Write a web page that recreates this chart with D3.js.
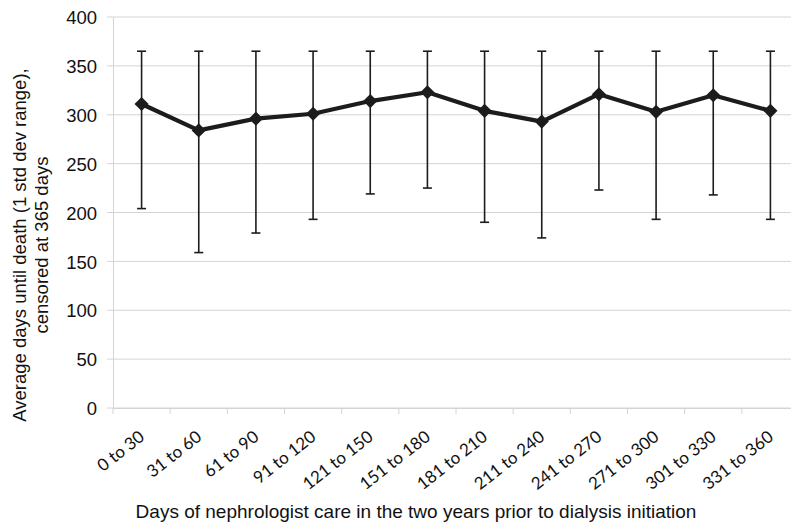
<!DOCTYPE html>
<html>
<head>
<meta charset="utf-8">
<script src="https://cdn.jsdelivr.net/npm/d3@7"></script>
<style>
    html, body { margin: 0; padding: 0; background: #fff; overflow: hidden; }
    svg { display: block; }
</style>
</head>
<body>
<svg id="chart" width="791" height="529"></svg>
<script>
(function () {
    'use strict';

    // --- Data ----------------------------------------------------------

    var categories = [
        '0 to 30', '31 to 60', '61 to 90', '91 to 120', '121 to 150',
        '151 to 180', '181 to 210', '211 to 240', '241 to 270',
        '271 to 300', '301 to 330', '331 to 360'
    ];

    // average days until death
    var means = [311, 284, 296, 301, 314, 323, 304, 293, 321, 303, 320, 304];

    // 1 std dev range (upper end is censored at 365)
    var upper = [365, 365, 365, 365, 365, 365, 365, 365, 365, 365, 365, 365];
    var lower = [204, 159, 179, 193, 219, 225, 190, 174, 223, 193, 218, 193];

    var yTicks = [0, 50, 100, 150, 200, 250, 300, 350, 400];

    // --- Layout --------------------------------------------------------

    var svg = d3.select('#chart'),
        left = 113,
        right = 799,      // plot runs past the right edge, as in the source
        top = 17,
        bottom = 408,
        ink = '#1c1c1c',
        grid = '#d4d4d4',
        sans = '"Liberation Sans", Arial, sans-serif';

    var x = d3.scaleBand().domain(categories).range([left, right]),
        y = d3.scaleLinear().domain([0, 400]).range([bottom, top]);

    function cx(i) {
        return x(categories[i]) + x.bandwidth() / 2;
    }

    // --- Grid + axes ---------------------------------------------------

    svg.append('g')
        .attr('class', 'grid')
        .selectAll('line')
        .data(yTicks)
        .join('line')
        .attr('x1', left - 6)
        .attr('x2', right)
        .attr('y1', function (d) { return y(d); })
        .attr('y2', function (d) { return y(d); })
        .attr('stroke', grid)
        .attr('stroke-width', 1);

    var yAxis = svg.append('g')
        .attr('transform', 'translate(' + left + ',0)')
        .call(d3.axisLeft(y).tickValues(yTicks).tickSize(0).tickPadding(16));
    yAxis.select('.domain').attr('stroke', grid);
    yAxis.selectAll('text')
        .attr('fill', '#111')
        .attr('dy', '0.36em')
        .style('font-family', sans)
        .style('font-size', '18.5px');

    var xAxis = svg.append('g')
        .attr('transform', 'translate(0,' + bottom + ')')
        .call(d3.axisBottom(x).tickSize(0).tickFormat(''));
    xAxis.select('.domain').attr('stroke', grid);

    // category boundary ticks
    svg.append('g')
        .selectAll('line')
        .data(d3.range(categories.length + 1))
        .join('line')
        .attr('x1', function (i) { return left + i * x.step(); })
        .attr('x2', function (i) { return left + i * x.step(); })
        .attr('y1', bottom)
        .attr('y2', bottom + 6)
        .attr('stroke', grid);

    svg.append('g')
        .selectAll('text')
        .data(categories)
        .join('text')
        .attr('transform', function (d, i) {
            return 'translate(' + (cx(i) + 4) + ',' + (bottom + 31) + ') rotate(-38)';
        })
        .attr('text-anchor', 'end')
        .attr('fill', '#111')
        .style('font-family', 'Lato, "Open Sans", sans-serif')
        .style('font-size', '17px')
        .text(function (d) { return d; });

    // --- Error bars ----------------------------------------------------

    var bars = svg.append('g').attr('class', 'errbars');

    bars.selectAll('line.stem')
        .data(categories)
        .join('line')
        .attr('class', 'stem')
        .attr('x1', function (d, i) { return cx(i); })
        .attr('x2', function (d, i) { return cx(i); })
        .attr('y1', function (d, i) { return y(upper[i]); })
        .attr('y2', function (d, i) { return y(lower[i]); })
        .attr('stroke', ink)
        .attr('stroke-width', 1.6);

    [upper, lower].forEach(function (arr) {
        bars.append('g')
            .selectAll('line')
            .data(arr)
            .join('line')
            .attr('x1', function (d, i) { return cx(i) - 4.5; })
            .attr('x2', function (d, i) { return cx(i) + 4.5; })
            .attr('y1', function (d) { return y(d); })
            .attr('y2', function (d) { return y(d); })
            .attr('stroke', ink)
            .attr('stroke-width', 1.6);
    });

    // --- Mean line + markers -------------------------------------------

    var line = d3.line()
        .x(function (d, i) { return cx(i); })
        .y(function (d) { return y(d); });

    svg.append('path')
        .datum(means)
        .attr('d', line)
        .attr('fill', 'none')
        .attr('stroke', ink)
        .attr('stroke-width', 4.2)
        .attr('stroke-linejoin', 'round');

    // square turned 45 degrees = diamond marker
    svg.append('g')
        .selectAll('path')
        .data(means)
        .join('path')
        .attr('d', d3.symbol().type(d3.symbolSquare).size(100))
        .attr('transform', function (d, i) {
            return 'translate(' + cx(i) + ',' + y(d) + ') rotate(45)';
        })
        .attr('fill', ink);

    // --- Axis titles ---------------------------------------------------

    var title = svg.append('g')
        .attr('transform', 'translate(0,245) rotate(-90)')
        .style('font-family', sans)
        .style('font-size', '18.5px')
        .attr('fill', '#111')
        .attr('text-anchor', 'middle');
    title.append('text').attr('y', 26).text('Average days until death (1 std dev range),');
    title.append('text').attr('y', 48).text('censored at 365 days');

    svg.append('text')
        .attr('x', 416)
        .attr('y', 518)
        .attr('text-anchor', 'middle')
        .attr('fill', '#111')
        .style('font-family', sans)
        .style('font-size', '19px')
        .text('Days of nephrologist care in the two years prior to dialysis initiation');
}());
</script>
</body>
</html>
